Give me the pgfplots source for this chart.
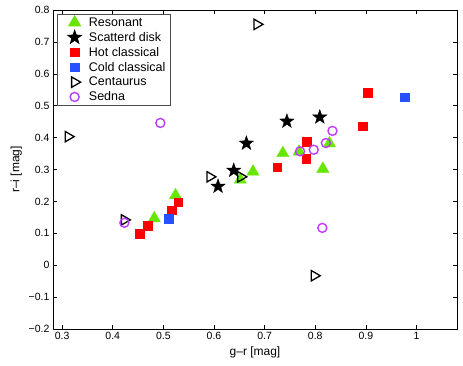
\documentclass[border=0pt]{standalone}
\usepackage{fontspec}
\setmainfont{Liberation Sans}
\usepackage{pgfplots}
\pgfplotsset{compat=1.18}

\definecolor{resgreen}{RGB}{102,230,0}
\definecolor{coldblue}{RGB}{40,80,255}
\definecolor{sednapurple}{RGB}{190,60,255}

% filled five-pointed star
\pgfdeclareplotmark{fstar}{%
  \pgfpathmoveto{\pgfpointpolar{90}{\pgfplotmarksize}}%
  \pgfpathlineto{\pgfpointpolar{126}{0.4\pgfplotmarksize}}%
  \pgfpathlineto{\pgfpointpolar{162}{\pgfplotmarksize}}%
  \pgfpathlineto{\pgfpointpolar{198}{0.4\pgfplotmarksize}}%
  \pgfpathlineto{\pgfpointpolar{234}{\pgfplotmarksize}}%
  \pgfpathlineto{\pgfpointpolar{270}{0.4\pgfplotmarksize}}%
  \pgfpathlineto{\pgfpointpolar{306}{\pgfplotmarksize}}%
  \pgfpathlineto{\pgfpointpolar{342}{0.4\pgfplotmarksize}}%
  \pgfpathlineto{\pgfpointpolar{18}{\pgfplotmarksize}}%
  \pgfpathlineto{\pgfpointpolar{54}{0.4\pgfplotmarksize}}%
  \pgfpathclose
  \pgfusepathqfillstroke
}

\begin{document}
\begin{tikzpicture}
\useasboundingbox (-53pt,-37pt) rectangle (410pt,329pt);
\begin{axis}[
  at={(0,0)}, anchor=south west,
  scale only axis, width=404pt, height=319pt,
  xmin=0.282, xmax=1.08, ymin=-0.2, ymax=0.8,
  xtick={0.3,0.4,0.5,0.6,0.7,0.8,0.9,1},
  xticklabels={0.3,0.4,0.5,0.6,0.7,0.8,0.9,1},
  ytick={-0.2,-0.1,0,0.1,0.2,0.3,0.4,0.5,0.6,0.7,0.8},
  yticklabels={−0.2,−0.1,0,0.1,0.2,0.3,0.4,0.5,0.6,0.7,0.8},
  tick align=inside, major tick length=4pt,
  tick style={black, line width=0.5pt},
  axis line style={line width=0.6pt},
  tick label style={font=\fontsize{10.5}{12}\selectfont},
  label style={font=\fontsize{12}{14}\selectfont},
  xlabel={g–r [mag]}, ylabel={r–i [mag]},
  legend style={at={(0.01,0.987)}, anchor=north west,
    font=\fontsize{12.5}{15}\selectfont, draw=black!70, line width=0.6pt,
    inner xsep=3pt, inner ysep=1pt, row sep=0.4pt},
  legend cell align=left,
  legend image code/.code={%
    \path (0pt,0pt) (26pt,0pt);
    \draw[mark repeat=2,mark phase=2,#1] plot coordinates {(0pt,0pt)(14pt,0pt)(26pt,0pt)};},
]
% Resonant
\addplot[only marks, mark=triangle*, mark size=7pt, color=resgreen] coordinates {
  (0.482,0.147)(0.524,0.219)(0.652,0.268)(0.677,0.293)(0.736,0.351)
  (0.768,0.356)(0.815,0.302)(0.828,0.382)
};
\addlegendentry{Resonant}
% Scattered disk
\addplot[only marks, mark=fstar, mark size=7.5pt, color=black] coordinates {
  (0.608,0.247)(0.639,0.297)(0.664,0.382)(0.744,0.451)(0.809,0.464)
};
\addlegendentry{Scatterd disk}
% Hot classical
\addplot[only marks, mark=square*, mark size=4.3pt, color=red] coordinates {
  (0.453,0.099)(0.469,0.123)(0.517,0.172)(0.529,0.197)(0.725,0.307)
  (0.782,0.333)(0.783,0.387)(0.894,0.436)(0.904,0.541)
};
\addlegendentry{Hot classical}
% Cold classical
\addplot[only marks, mark=square*, mark size=4.3pt, color=coldblue] coordinates {
  (0.511,0.145)(0.977,0.527)
};
\addlegendentry{Cold classical}
% Centaurus
\addplot[only marks, mark=triangle, mark size=6pt, color=black,
  mark options={rotate=-90, line width=1.3pt}] coordinates {
  (0.312,0.403)(0.423,0.142)(0.592,0.277)(0.653,0.277)(0.685,0.755)(0.798,-0.033)
};
\addlegendentry{Centaurus}
% Sedna
\addplot[only marks, mark=o, mark size=4.5pt, color=sednapurple,
  mark options={line width=1.4pt}] coordinates {
  (0.423,0.133)(0.494,0.446)(0.770,0.357)(0.797,0.362)(0.814,0.117)
  (0.821,0.383)(0.834,0.421)
};
\addlegendentry{Sedna}
\end{axis}
\end{tikzpicture}
\end{document}
